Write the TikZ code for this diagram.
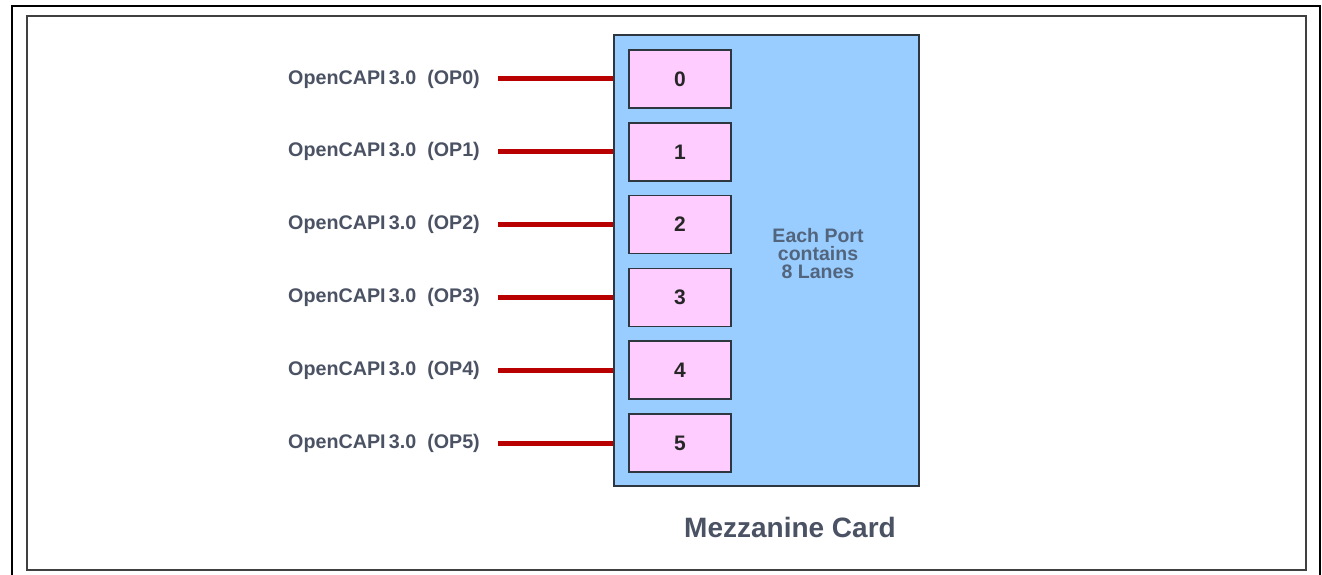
\documentclass[tikz,border=0pt]{standalone}
\usepackage{fontspec}
\setmainfont{Liberation Sans}
\definecolor{cardblue}{HTML}{99CCFF}
\definecolor{portpink}{HTML}{FFCCFF}
\definecolor{linkred}{HTML}{B80000}
\definecolor{labelgray}{HTML}{4A5263}
\definecolor{notegray}{HTML}{52657D}
\definecolor{edgegray}{HTML}{2E3640}

\begin{document}
\begin{tikzpicture}[x = 1pt, y = -1pt,
  card/.style = {draw = edgegray, line width = 2pt, fill = cardblue, minimum width = 305pt, minimum height = 451pt, inner sep = 0},
  port/.style = {draw = edgegray, line width = 1.5pt, fill = portpink, minimum width = 102pt, minimum height = 58pt, font = \fontsize{21}{21}\selectfont\bfseries, text = black!85},
  oplabel/.style = {anchor = east, inner sep = 0, font = \fontsize{19.7}{19.7}\selectfont\bfseries, text = labelgray},
  link/.style = {draw = linkred, line width = 5pt}]
        \useasboundingbox (0, 0) rectangle (1322, 575);
        \fill[white] (0, 0) rectangle (1322, 575);
        % frames
        \draw[line width = 2.5pt] (12, 600) -- (12, 6) -- (1320, 6) -- (1320, 600);
        \draw[line width = 2pt, black!75] (27, 16) rectangle (1306, 570);
        % card and ports
        \node[card] (card) at (766.5, 260.5) {};
        \foreach \i in {0, ..., 5} {
          \node[port] (port\i) at (680, 79 + 72.8*\i) {\i};
          \node[oplabel] (lbl\i) at (480, 79 + 72.8*\i) {OpenCAPI\,3.0~ (OP\i)};
          \draw[link] ([xshift = 18pt]lbl\i.east) -- (port\i -| card.west);
        }
        \node[align = center, font = \fontsize{19.5}{18}\selectfont\bfseries, text = notegray] (note) at (818, 254) {Each Port\\contains\\8 Lanes};
        \node[font = \fontsize{28}{28}\selectfont\bfseries, text = labelgray] (title) at (790, 527) {Mezzanine Card};
      \end{tikzpicture}
\end{document}
